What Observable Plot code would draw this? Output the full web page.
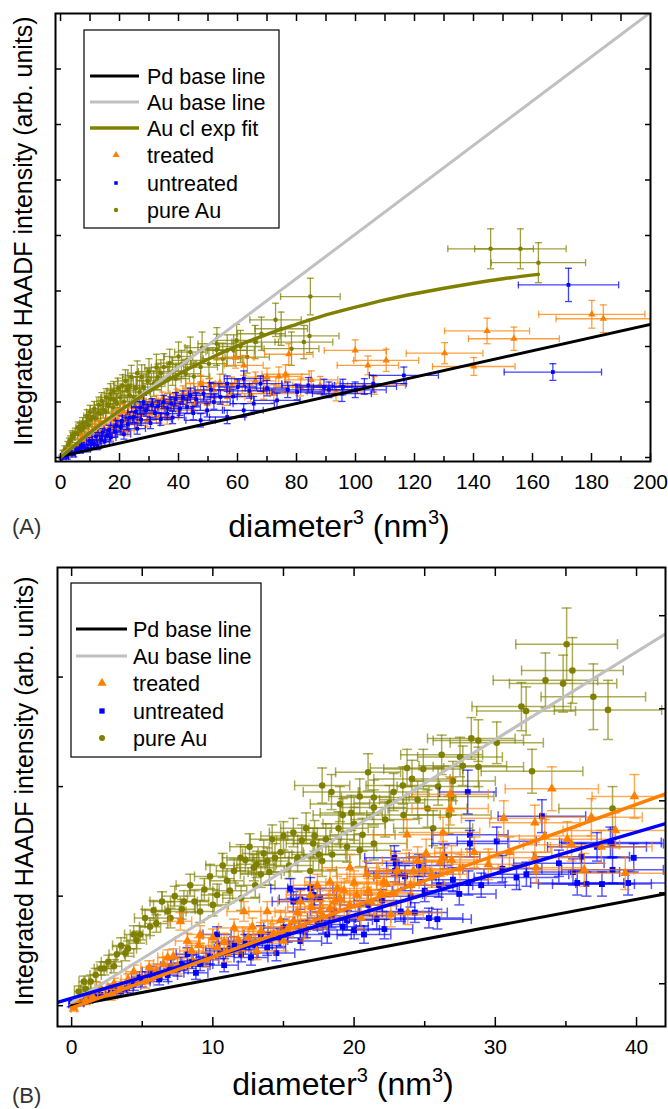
<!DOCTYPE html>
<html><head><meta charset="utf-8">
<script src="https://cdn.jsdelivr.net/npm/d3@7"></script>
<script src="https://cdn.jsdelivr.net/npm/@observablehq/plot@0.6"></script>
<style>
body{margin:0;background:#fff;}
#wrap{width:668px;}
#wrap svg{display:block;}
</style></head><body><div id="wrap"></div>
<script>
// ---------- colours ----------
const OLIVE = "#808000", ORANGE = "#FF8000", BLUE = "#0000FF", GRAY = "#C0C0C0", BLACK = "#000000";
const FONT = '"Liberation Sans", Arial, Helvetica, sans-serif';

// ---------- Panel A data: [x, y, xerr, yerr] ----------
const pureAuA = [[0.8,0.08,0.3,0.05],[1.5,0.15,0.4,0.06],[2.5,0.22,0.5,0.07],[3.4,0.31,0.6,0.08],[4.2,0.36,0.7,0.09],[5.0,0.44,0.8,0.09],[5.8,0.42,0.9,0.1],[6.5,0.52,0.9,0.1],[7.2,0.49,1,0.1],[7.9,0.55,1.1,0.11],[8.8,0.64,1.2,0.12],[9.5,0.58,1.2,0.12],[10.3,0.68,1.3,0.13],[11.0,0.73,1.4,0.13],[12.0,0.70,1.5,0.14],[12.8,0.80,1.6,0.14],[13.6,0.79,1.7,0.15],[14.5,0.86,1.8,0.15],[15.3,0.82,1.9,0.16],[16.2,0.95,2,0.16],[16.9,1.15,2.1,0.18],[17.8,0.90,2.2,0.17],[18.5,1.02,2.3,0.18],[19.2,0.97,2.4,0.18],[20.3,1.08,2.5,0.19],[21.5,1.00,2.6,0.19],[22.6,1.21,2.8,0.2],[23.5,1.12,2.9,0.2],[24.8,1.09,3.0,0.2],[25.6,1.25,3.1,0.21],[26.8,1.18,3.3,0.21],[28.2,1.27,3.4,0.22],[29.5,1.38,3.6,0.22],[30.5,1.22,3.7,0.22],[31.6,1.33,3.8,0.23],[33.0,1.45,4.0,0.23],[35.0,1.63,4.2,0.24],[36.5,1.40,4.4,0.24],[38.0,1.55,4.6,0.25],[39.0,1.42,4.7,0.25],[41.0,1.68,4.9,0.25],[42.4,1.51,5.1,0.26],[42.9,1.75,5.1,0.26],[45.2,1.46,5.4,0.26],[47.5,1.63,5.7,0.27],[50.3,1.69,6.0,0.27],[52.9,1.94,6.3,0.28],[56.5,1.93,6.7,0.28],[58.7,1.93,7.0,0.28],[59.7,2.11,7.1,0.29],[63.3,1.81,7.5,0.29],[68.1,2.23,8.1,0.3],[72.9,2.48,8.7,0.3],[74.8,2.32,8.9,0.3],[78.3,1.96,9.3,0.3],[82.5,2.08,9.8,0.3],[84.4,2.19,10,0.3],[84.7,2.90,10.1,0.33],[145.8,3.76,14.5,0.36],[155.9,3.76,15.5,0.36],[162.0,3.51,16,0.36],
  [3.0,0.28,0.5,0.07],[4.0,0.40,0.6,0.08],[6.0,0.55,0.8,0.09],[7.5,0.62,1.0,0.1],[9.0,0.75,1.1,0.11],[10.0,0.82,1.2,0.12],[11.5,0.88,1.4,0.13],[13.0,0.95,1.6,0.14],[14.0,1.02,1.7,0.15],[15.5,1.08,1.9,0.16],[17.0,1.06,2.0,0.16],[18.0,1.20,2.2,0.17],[19.5,1.25,2.4,0.18],[21.0,1.30,2.6,0.19],[22.0,1.38,2.7,0.2],[23.0,1.28,2.8,0.2],[24.0,1.45,2.9,0.21],[26.0,1.52,3.2,0.22],[27.5,1.45,3.3,0.22],[30.0,1.55,3.6,0.23],[32.5,1.62,3.9,0.24],[34.0,1.52,4.1,0.24],[37.0,1.70,4.5,0.25],[40.0,1.82,4.8,0.26],[44.0,1.90,5.3,0.27],[48.0,1.98,5.8,0.28],[53.0,2.05,6.4,0.29],[55.0,1.78,6.6,0.28],[61.0,2.00,7.3,0.29],[66.0,2.08,7.9,0.3]];
const treatedA = [[0.5,0.02,0.2,0.03],[1.5,0.06,0.3,0.04],[2.3,0.04,0.4,0.04],[3.5,0.12,0.5,0.05],[4.5,0.15,0.6,0.05],[5.7,0.19,0.7,0.06],[6.8,0.28,0.8,0.06],[8.0,0.24,0.9,0.07],[9.0,0.33,1.0,0.07],[10.2,0.37,1.1,0.08],[11.3,0.25,1.2,0.07],[12.5,0.44,1.3,0.08],[13.5,0.32,1.4,0.08],[14.7,0.49,1.6,0.09],[15.8,0.45,1.7,0.09],[16.9,0.40,1.8,0.09],[18.0,0.55,1.9,0.1],[19.2,0.61,2.0,0.1],[20.5,0.50,2.2,0.1],[21.5,0.66,2.3,0.1],[22.6,0.49,2.4,0.1],[23.8,0.70,2.5,0.11],[24.8,0.73,2.6,0.11],[26.0,0.62,2.8,0.11],[27.2,0.78,2.9,0.11],[29.4,0.67,3.1,0.12],[31.0,0.80,3.3,0.12],[33.5,0.74,3.5,0.12],[35.0,0.91,3.7,0.13],[36.2,0.73,3.8,0.13],[38.5,0.96,4.1,0.13],[40.0,0.85,4.2,0.13],[42.9,1.09,4.5,0.14],[45.5,0.98,4.8,0.14],[47.5,1.33,5.0,0.15],[49.7,0.97,5.2,0.14],[52.0,1.21,5.5,0.15],[56.5,1.09,6.0,0.15],[59.3,1.80,6.3,0.19],[62.1,1.66,6.6,0.18],[64.4,1.15,6.8,0.15],[68.9,1.21,7.3,0.16],[72.3,1.15,7.6,0.16],[74.0,1.46,7.8,0.17],[76.3,1.50,8.0,0.17],[77.4,1.86,8.2,0.19],[81.4,1.27,8.6,0.16],[93.4,1.18,9.8,0.16],[99.9,1.93,10.5,0.19],[104.2,1.66,10.4,0.17],[106.4,1.30,10.5,0.16],[110.4,1.75,11,0.2],[130.2,1.88,13,0.19],[140.1,1.64,14,0.16],[144.6,2.28,14.4,0.23],[153.7,2.14,15.4,0.21],[180.1,2.58,18,0.25],[184.0,2.50,16,0.25],
  [7.5,0.35,0.8,0.07],[9.5,0.42,1.0,0.08],[11.8,0.52,1.2,0.08],[13.0,0.58,1.4,0.09],[15.0,0.62,1.6,0.09],[17.5,0.70,1.8,0.1],[19.8,0.78,2.1,0.1],[21.0,0.85,2.2,0.11],[23.0,0.80,2.4,0.11],[25.5,0.90,2.7,0.11],[28.0,0.95,3.0,0.12],[30.0,0.92,3.2,0.12],[32.5,1.00,3.4,0.12],[34.5,1.05,3.6,0.13],[37.0,1.02,3.9,0.13],[39.5,1.10,4.2,0.13],[41.5,1.15,4.4,0.14],[44.0,1.20,4.6,0.14],[50.5,1.28,5.3,0.15],[54.0,1.35,5.7,0.15],[58.0,1.30,6.1,0.15],[66.0,1.38,7.0,0.16],[70.0,1.45,7.4,0.16],[85.0,1.40,9.0,0.16],[88.0,1.30,9.3,0.16]];
const untreatedA = [[0.5,0.0,0.2,0.03],[1.2,0.03,0.3,0.03],[2.3,0.01,0.4,0.04],[3.2,0.08,0.5,0.04],[4.5,0.06,0.6,0.05],[5.5,0.14,0.7,0.05],[6.8,0.13,0.8,0.05],[8.0,0.18,0.9,0.06],[9.2,0.16,1.0,0.06],[10.5,0.24,1.1,0.06],[11.3,0.25,1.2,0.07],[12.5,0.21,1.3,0.07],[13.8,0.33,1.5,0.07],[15.0,0.29,1.6,0.08],[15.8,0.40,1.7,0.08],[17.0,0.36,1.8,0.08],[18.5,0.46,2.0,0.09],[20.3,0.55,2.2,0.09],[21.5,0.42,2.3,0.09],[22.8,0.60,2.4,0.1],[24.8,0.73,2.6,0.1],[26.0,0.52,2.8,0.1],[27.3,0.68,2.9,0.1],[28.2,1.00,3.0,0.12],[30.5,0.62,3.2,0.1],[32.0,0.80,3.4,0.11],[34.0,0.69,3.6,0.11],[36.2,0.79,3.8,0.11],[38.0,0.72,4.0,0.11],[40.5,0.88,4.3,0.12],[42.9,0.91,4.5,0.12],[45.0,0.80,4.7,0.12],[47.5,0.67,5.0,0.12],[49.7,0.85,5.2,0.12],[52.0,1.00,5.5,0.13],[54.2,1.09,5.7,0.13],[56.5,0.73,6.0,0.12],[56.5,1.33,6.0,0.14],[60.1,1.27,6.4,0.14],[62.1,1.42,6.6,0.14],[62.1,0.85,6.6,0.12],[65.5,0.97,7.0,0.13],[67.8,1.33,7.2,0.14],[73.4,1.03,7.8,0.13],[80.2,1.18,8.5,0.14],[89.3,1.27,9.5,0.14],[95.7,1.27,10,0.14],[95.4,1.15,10,0.14],[99.9,1.22,10.5,0.14],[116.4,1.48,11.7,0.15],[166.9,1.54,16.5,0.15],[172.2,3.11,17,0.3],
  [7.2,0.22,0.8,0.05],[9.8,0.30,1.0,0.06],[12.0,0.38,1.3,0.07],[14.2,0.45,1.5,0.07],[16.5,0.50,1.7,0.08],[19.0,0.58,2.0,0.09],[20.8,0.66,2.2,0.09],[23.5,0.72,2.5,0.1],[25.5,0.82,2.7,0.1],[27.0,0.90,2.9,0.11],[29.0,0.85,3.1,0.11],[31.0,0.95,3.3,0.11],[33.0,0.92,3.5,0.11],[35.0,1.00,3.7,0.12],[37.5,0.97,4.0,0.12],[39.0,1.05,4.1,0.12],[41.5,1.08,4.4,0.12],[44.0,1.12,4.7,0.13],[46.0,1.05,4.9,0.12],[48.5,1.15,5.1,0.13],[51.0,1.22,5.4,0.13],[58.5,1.10,6.2,0.13],[64.0,1.20,6.8,0.13],[70.0,1.25,7.4,0.14],[77.0,1.22,8.2,0.14],[84.0,1.30,8.9,0.14],[91.0,1.22,9.6,0.14],[103.0,1.28,10.9,0.14],[106.0,1.33,11.2,0.15]];

// Panel A lines (read endpoints / read points along the curve)
const pdBaseA = {x: [0, 200], y: [0.02, 2.40]};
const auBaseA = {x: [0, 199.5], y: [0.03, 8.0]};
const auFitA = {x: [0,10,20,30,40,50,60,70,80,90,100,110,120,130,140,150,162],
                y: [0.00,0.45,0.84,1.19,1.50,1.77,2.01,2.22,2.40,2.57,2.71,2.84,2.95,3.05,3.14,3.22,3.30]};

// Panel A axes
const xDomainA = [-1.7, 200], yDomainA = [-0.072, 8];
const xMajorA = [0,20,40,60,80,100,120,140,160,180,200];
const xMinorA = [10,30,50,70,90,110,130,150,170,190];
const xTopA = [0,10,20,30,40,50,60,70,80,90,100,110,120,130,140,150,160,170,180,190];
const yTicksA = [0,1,2,3,4,5,6,7];

// ---------- Panel B data: [x, y, xerr, yerr] ----------
const pureAuB = [[0.5,0.13,0.3,0.05],[0.87,0.22,0.35,0.05],[1.35,0.22,0.4,0.06],[2.05,0.34,0.45,0.06],[2.3,0.34,0.5,0.06],[3.2,0.47,0.55,0.07],[3.8,0.48,0.6,0.07],[4.4,0.65,0.65,0.08],[4.85,0.65,0.7,0.08],[5.55,0.72,0.75,0.08],[5.8,0.87,0.8,0.09],[6.8,0.86,0.85,0.09],[7.95,0.95,0.95,0.1],[9.1,0.86,1.0,0.1],[9.4,1.06,1.05,0.1],[10.3,1.01,1.1,0.1],[11.0,1.14,1.2,0.11],[11.5,1.23,1.25,0.11],[12.0,0.98,1.3,0.11],[11.96,1.35,1.3,0.12],[12.3,1.33,1.3,0.12],[12.9,1.26,1.4,0.12],[13.1,1.29,1.4,0.12],[13.4,1.20,1.45,0.12],[13.6,1.39,1.5,0.12],[13.85,1.32,1.5,0.12],[14.2,1.52,1.55,0.13],[14.4,1.35,1.6,0.13],[15.0,1.55,1.6,0.13],[15.7,1.58,1.7,0.13],[16.0,1.35,1.75,0.13],[16.3,1.51,1.8,0.14],[16.9,1.23,1.85,0.13],[17.1,1.48,1.9,0.14],[17.5,1.38,1.9,0.14],[17.74,2.01,1.95,0.16],[17.74,1.32,1.95,0.14],[18.4,1.95,2.0,0.16],[18.45,1.38,2.0,0.14],[19.0,1.84,2.1,0.16],[19.2,1.74,2.1,0.15],[19.8,1.76,2.2,0.16],[20.4,1.91,2.2,0.16],[20.4,1.42,2.2,0.15],[20.6,1.56,2.3,0.15],[20.99,2.13,2.3,0.17],[21.4,1.90,2.3,0.16],[21.4,1.48,2.35,0.15],[21.4,1.81,2.35,0.16],[22.8,1.95,2.5,0.17],[23.45,2.01,2.6,0.17],[23.5,1.74,2.6,0.16],[23.75,2.17,2.6,0.17],[24.1,2.07,2.7,0.17],[24.9,2.16,2.8,0.18],[25.6,1.62,2.8,0.16],[25.95,2.0,2.9,0.17],[26.2,2.29,2.9,0.18],[26.7,1.74,3.0,0.17],[26.9,1.91,3.0,0.17],[27.5,2.27,3.0,0.18],[27.7,2.19,3.1,0.18],[28.3,2.44,3.1,0.19],[28.8,2.42,3.2,0.19],[28.8,2.18,3.2,0.18],[30.1,2.40,3.3,0.19],[31.85,2.73,3.5,0.22],[32.18,2.69,3.5,0.22],[32.6,2.14,3.6,0.2],[33.55,2.97,3.7,0.25],[34.8,2.94,3.8,0.26],[35.05,3.30,3.6,0.33],[35.46,3.06,3.6,0.3],[36.94,2.82,3.7,0.3],[37.98,2.70,3.8,0.27],[38.3,1.80,3.8,0.2],
  [1.0,0.15,0.35,0.05],[1.7,0.28,0.4,0.06],[2.6,0.40,0.5,0.06],[3.0,0.36,0.55,0.06],[3.5,0.55,0.6,0.07],[4.0,0.52,0.6,0.07],[4.6,0.60,0.7,0.08],[5.2,0.80,0.75,0.08],[6.0,0.75,0.8,0.08],[6.4,0.95,0.85,0.09],[7.0,0.80,0.9,0.09],[7.3,1.00,0.9,0.09],[7.8,0.88,0.95,0.09],[8.4,1.10,1.0,0.1],[8.7,0.95,1.0,0.1],[9.8,1.18,1.1,0.11],[10.0,0.92,1.1,0.1],[10.7,1.28,1.2,0.11],[11.2,1.05,1.2,0.11],[12.6,1.45,1.4,0.12],[13.0,1.10,1.4,0.11],[14.0,1.22,1.5,0.12],[14.8,1.40,1.6,0.13],[15.4,1.28,1.7,0.12],[16.6,1.62,1.8,0.14],[17.2,1.55,1.9,0.14],[18.0,1.52,2.0,0.14],[18.9,1.62,2.1,0.15],[19.5,1.45,2.1,0.14],[20.0,1.66,2.2,0.15],[22.2,1.70,2.4,0.16],[22.5,1.85,2.5,0.16],[24.5,1.88,2.7,0.17],[25.2,1.80,2.8,0.17],[27.0,2.05,3.0,0.18]];
const treatedB = [[0.16,-0.02,0.2,0.03],[0.4,0.04,0.25,0.03],[1.0,0.05,0.3,0.04],[1.5,0.08,0.35,0.04],[2.05,0.16,0.4,0.05],[2.8,0.10,0.45,0.05],[3.5,0.17,0.5,0.05],[4.4,0.31,0.55,0.06],[5.2,0.22,0.6,0.06],[6.0,0.32,0.65,0.06],[6.8,0.44,0.7,0.07],[7.7,0.77,0.8,0.08],[7.5,0.36,0.8,0.07],[8.2,0.59,0.85,0.07],[9.1,0.65,0.9,0.08],[9.5,0.42,0.95,0.07],[10.3,0.53,1.0,0.08],[11.0,0.48,1.1,0.08],[11.5,0.71,1.1,0.08],[12.2,0.86,1.2,0.09],[12.5,0.62,1.2,0.08],[13.1,0.50,1.3,0.08],[13.85,0.86,1.3,0.09],[14.3,0.66,1.4,0.09],[15.0,0.59,1.4,0.09],[15.7,0.77,1.5,0.09],[16.2,0.95,1.6,0.1],[16.5,0.70,1.6,0.09],[16.9,1.01,1.7,0.1],[17.4,1.10,1.7,0.1],[17.8,0.82,1.8,0.1],[18.3,0.89,1.8,0.1],[18.3,1.13,1.8,0.11],[18.8,1.07,1.9,0.11],[19.0,0.98,1.9,0.1],[19.7,1.26,2.0,0.12],[19.7,0.92,2.0,0.1],[20.2,1.01,2.0,0.11],[20.5,0.80,2.1,0.1],[20.9,1.20,2.1,0.12],[21.2,0.95,2.1,0.11],[21.9,1.03,2.2,0.11],[22.1,1.13,2.2,0.12],[22.3,1.11,2.3,0.12],[22.6,0.83,2.3,0.11],[23.05,1.23,2.3,0.12],[23.75,1.56,2.4,0.14],[23.8,0.85,2.4,0.11],[24.2,1.23,2.4,0.12],[24.5,1.32,2.5,0.13],[24.9,1.24,2.5,0.13],[25.1,1.39,2.5,0.13],[26.1,1.31,2.6,0.13],[26.3,1.36,2.6,0.14],[26.3,1.58,2.6,0.14],[26.8,1.80,2.7,0.15],[26.8,1.93,2.7,0.16],[26.9,1.33,2.7,0.13],[29.5,1.29,2.9,0.14],[30.6,1.71,3.0,0.16],[32.8,1.67,3.2,0.16],[32.8,1.35,3.2,0.14],[32.9,1.26,3.2,0.14],[34.0,1.98,3.3,0.2],[35.1,1.52,3.4,0.16],[35.4,1.47,3.4,0.15],[36.3,1.24,3.5,0.15],[36.8,1.72,3.6,0.17],[39.2,1.21,3.8,0.15],[39.85,1.91,3.0,0.2],
  [3.0,0.20,0.45,0.05],[4.0,0.24,0.5,0.05],[5.5,0.35,0.6,0.06],[6.5,0.38,0.7,0.06],[7.2,0.45,0.75,0.07],[8.5,0.50,0.85,0.07],[9.0,0.55,0.9,0.07],[10.0,0.62,1.0,0.08],[10.8,0.58,1.1,0.08],[11.8,0.60,1.2,0.08],[12.8,0.72,1.3,0.08],[13.4,0.68,1.3,0.08],[14.8,0.78,1.4,0.09],[15.4,0.72,1.5,0.09],[16.0,0.85,1.6,0.09],[17.0,0.90,1.7,0.1],[17.6,0.86,1.7,0.1],[18.6,0.95,1.8,0.1],[19.3,1.05,1.9,0.11],[20.0,1.12,2.0,0.11],[21.0,1.05,2.1,0.11],[21.6,1.18,2.1,0.12],[22.8,1.02,2.3,0.11],[24.0,1.10,2.4,0.12],[25.5,1.20,2.5,0.12],[27.5,1.25,2.7,0.13],[28.5,1.40,2.8,0.14],[31.0,1.40,3.0,0.14],[33.5,1.55,3.3,0.15],[37.5,1.45,3.6,0.15],[38.5,1.60,3.7,0.16]];
const untreatedB = [[0.0,0.02,0.2,0.03],[0.6,0.03,0.25,0.03],[1.2,0.06,0.3,0.03],[2.05,0.10,0.35,0.04],[2.8,0.12,0.4,0.04],[3.5,0.13,0.45,0.04],[4.4,0.19,0.5,0.05],[5.0,0.22,0.55,0.05],[5.6,0.31,0.6,0.05],[6.2,0.24,0.65,0.05],[6.8,0.28,0.7,0.06],[7.5,0.33,0.75,0.06],[8.2,0.47,0.8,0.06],[8.8,0.30,0.85,0.06],[9.1,0.38,0.9,0.06],[9.8,0.45,0.95,0.07],[10.3,0.65,1.0,0.07],[10.8,0.37,1.0,0.06],[11.5,0.56,1.1,0.07],[12.0,0.47,1.1,0.07],[12.7,0.44,1.2,0.07],[13.4,0.65,1.2,0.08],[13.85,0.53,1.3,0.07],[14.5,0.48,1.3,0.07],[15.0,0.71,1.4,0.08],[15.5,1.07,1.4,0.09],[15.7,0.95,1.5,0.09],[16.2,0.59,1.5,0.08],[16.2,0.97,1.5,0.09],[16.9,1.07,1.6,0.1],[17.15,1.01,1.6,0.09],[17.4,0.77,1.6,0.08],[17.6,0.98,1.7,0.09],[18.1,0.65,1.7,0.08],[18.6,0.86,1.7,0.09],[19.2,0.72,1.8,0.08],[20.0,0.69,1.8,0.08],[20.7,0.65,1.9,0.08],[21.6,0.79,2.0,0.09],[22.15,0.70,2.0,0.09],[22.85,1.35,2.1,0.11],[22.9,1.23,2.1,0.1],[22.95,1.30,2.1,0.11],[23.2,1.21,2.2,0.1],[23.3,0.86,2.2,0.09],[23.6,1.18,2.2,0.1],[24.3,0.85,2.3,0.09],[24.6,1.28,2.3,0.1],[25.3,0.80,2.4,0.09],[25.9,0.79,2.4,0.09],[26.4,1.36,2.5,0.11],[27.45,1.02,2.6,0.1],[28.05,1.95,2.0,0.2],[28.1,1.12,2.6,0.11],[28.2,1.56,2.7,0.13],[28.2,1.48,2.7,0.12],[30.1,1.50,2.8,0.13],[31.5,1.17,3.0,0.11],[32.2,1.20,3.0,0.11],[33.3,1.73,3.1,0.15],[35.8,1.12,3.3,0.11],[36.1,1.36,3.4,0.12],[36.45,1.11,3.4,0.11],[37.2,1.45,3.5,0.13],[37.55,1.11,3.5,0.11],[38.15,1.49,3.6,0.14],[38.3,1.24,3.6,0.12],[38.3,1.48,3.6,0.13],[39.4,1.12,3.7,0.11],
  [1.6,0.08,0.3,0.03],[3.0,0.15,0.4,0.04],[3.9,0.16,0.45,0.04],[4.8,0.26,0.55,0.05],[5.8,0.27,0.6,0.05],[7.0,0.36,0.7,0.06],[7.8,0.38,0.75,0.06],[8.5,0.40,0.8,0.06],[9.5,0.42,0.9,0.06],[10.5,0.50,1.0,0.07],[11.2,0.52,1.1,0.07],[12.3,0.58,1.2,0.07],[13.0,0.55,1.2,0.07],[14.0,0.60,1.3,0.07],[14.8,0.62,1.4,0.08],[15.3,0.66,1.4,0.08],[16.6,0.70,1.6,0.08],[17.8,0.74,1.7,0.08],[18.4,0.80,1.7,0.09],[19.5,0.78,1.8,0.09],[20.4,0.82,1.9,0.09],[21.0,0.92,2.0,0.09],[22.0,0.96,2.0,0.1],[24.0,1.00,2.2,0.1],[25.0,1.05,2.3,0.1],[26.0,1.10,2.4,0.11],[27.0,1.15,2.5,0.11],[29.0,1.10,2.7,0.11],[30.5,1.25,2.8,0.12],[34.5,1.30,3.2,0.12],[35.5,1.22,3.3,0.12],[39.8,1.35,3.7,0.13]];

// Panel B lines (read endpoints)
const pdBaseB = {x: [0, 42], y: [0.0, 1.02]};
const auBaseB = {x: [0, 42], y: [0.03, 3.39]};
const untreatedFitB = {x: [-1, 42], y: [0.03, 1.66]};
const treatedFitB = {x: [0, 42], y: [-0.02, 1.93]};

// Panel B axes
const xDomainB = [-1, 42.05], yDomainB = [-0.19, 4.0];
const xMajorB = [0,10,20,30,40];
const xMinorB = [5,15,25,35];
const xTopB = [0,5,10,15,20,25,30,35,40];
const yTicksB = [0,1,2,3];
const yTicksBRight = [0.20,1.03,1.87,2.71,3.56];

// ---------- helpers ----------
const capV = {draw(ctx, size){ const h = Math.sqrt(size/Math.PI); ctx.moveTo(0,-h); ctx.lineTo(0,h); }};
const capH = {draw(ctx, size){ const h = Math.sqrt(size/Math.PI); ctx.moveTo(-h,0); ctx.lineTo(h,0); }};
const toPts = o => o.x.map((x,i)=>({x, y:o.y[i]}));

function errMarks(data, color, sw, cap, op){
  const s = {stroke: color, strokeOpacity: op, strokeWidth: sw, clip: true};
  return [
    Plot.ruleY(data, {y: d=>d[1], x1: d=>d[0]-d[2], x2: d=>d[0]+d[2], ...s}),
    Plot.ruleX(data, {x: d=>d[0], y1: d=>d[1]-d[3], y2: d=>d[1]+d[3], ...s}),
    Plot.dot(data, {x: d=>d[0]-d[2], y: d=>d[1], symbol: capV, r: cap, fill: "none", ...s}),
    Plot.dot(data, {x: d=>d[0]+d[2], y: d=>d[1], symbol: capV, r: cap, fill: "none", ...s}),
    Plot.dot(data, {x: d=>d[0], y: d=>d[1]-d[3], symbol: capH, r: cap, fill: "none", ...s}),
    Plot.dot(data, {x: d=>d[0], y: d=>d[1]+d[3], symbol: capH, r: cap, fill: "none", ...s})
  ];
}
function series(data, color, symbol, r, sw, cap, op){
  return [...errMarks(data, color, sw, cap, op),
    Plot.dot(data, {x: d=>d[0], y: d=>d[1], symbol, r, fill: color, stroke: "none", clip: true})];
}
const styleObj = {fontFamily: FONT, fontSize: "21px", color: "#000", background: "#fff", overflow: "visible"};

// ---------- Panel A ----------
const svgA = Plot.plot({
  width: 668, height: 548,
  marginTop: 13, marginBottom: 87, marginLeft: 55, marginRight: 18,
  style: styleObj,
  x: {domain: xDomainA},
  y: {domain: yDomainA},
  marks: [
    ...series(pureAuA, OLIVE, "circle", 2.3, 1.3, 3.5, 0.75),
    ...series(treatedA, ORANGE, "triangle", 2.7, 1.3, 3.5, 0.75),
    ...series(untreatedA, BLUE, "square", 2.1, 1.3, 3.5, 0.75),
    Plot.line(toPts(pdBaseA), {x: "x", y: "y", stroke: BLACK, strokeWidth: 3, clip: true}),
    Plot.line(toPts(auBaseA), {x: "x", y: "y", stroke: GRAY, strokeWidth: 3, clip: true}),
    Plot.line(toPts(auFitA), {x: "x", y: "y", stroke: OLIVE, strokeWidth: 3.5, curve: "monotone-x", clip: true}),
    Plot.axisX({ticks: xMajorA, tickSize: -8, tickPadding: 21, label: null, strokeWidth: 1.5}),
    Plot.axisX({ticks: xMinorA, tickSize: -5, tickFormat: () => "", label: null, strokeWidth: 1.5}),
    Plot.axisX({anchor: "top", ticks: xTopA, tickSize: -7, tickFormat: () => "", label: null, strokeWidth: 1.5}),
    Plot.axisY({ticks: yTicksA, tickSize: -6, tickFormat: () => "", label: null, strokeWidth: 1.5}),
    Plot.axisY({anchor: "right", ticks: yTicksA, tickSize: -6, tickFormat: () => "", label: null, strokeWidth: 1.5}),
    Plot.frame({stroke: BLACK, strokeWidth: 2})
  ]
});

// ---------- Panel B ----------
const svgB = Plot.plot({
  width: 668, height: 561,
  marginTop: 19, marginBottom: 83, marginLeft: 57, marginRight: 3,
  style: styleObj,
  x: {domain: xDomainB},
  y: {domain: yDomainB},
  marks: [
    ...series(pureAuB, OLIVE, "circle", 3.3, 1.5, 5, 0.65),
    ...series(untreatedB, BLUE, "square", 3.3, 1.5, 5, 0.65),
    ...series(treatedB, ORANGE, "triangle", 3.6, 1.5, 5, 0.65),
    Plot.line(toPts(pdBaseB), {x: "x", y: "y", stroke: BLACK, strokeWidth: 3, clip: true}),
    Plot.line(toPts(auBaseB), {x: "x", y: "y", stroke: GRAY, strokeWidth: 3, clip: true}),
    Plot.line(toPts(untreatedFitB), {x: "x", y: "y", stroke: BLUE, strokeWidth: 3.5, clip: true}),
    Plot.line(toPts(treatedFitB), {x: "x", y: "y", stroke: ORANGE, strokeWidth: 3.5, clip: true}),
    Plot.axisX({ticks: xMajorB, tickSize: -9, tickPadding: 22, label: null, strokeWidth: 1.5}),
    Plot.axisX({ticks: xMinorB, tickSize: -5, tickFormat: () => "", label: null, strokeWidth: 1.5}),
    Plot.axisX({anchor: "top", ticks: xTopB, tickSize: -8, tickFormat: () => "", label: null, strokeWidth: 1.5}),
    Plot.axisY({ticks: yTicksB, tickSize: -6, tickFormat: () => "", label: null, strokeWidth: 1.5}),
    Plot.axisY({anchor: "right", ticks: yTicksBRight, tickSize: -7, tickFormat: () => "", label: null, strokeWidth: 1.5}),
    Plot.frame({stroke: BLACK, strokeWidth: 2})
  ]
});

const wrap = document.getElementById("wrap");
wrap.appendChild(svgA);
wrap.appendChild(svgB);

// ---------- titles, labels, legends ----------
function addTexts(svg, o){
  const s = d3.select(svg);
  const g = s.append("g").attr("font-family", FONT).attr("fill", "#000").attr("text-anchor", "start");
  g.append("text").attr("transform", `translate(${o.yl[0]},${o.yl[1]}) rotate(-90)`)
    .attr("text-anchor", "middle").attr("font-size", 25)
    .text("Integrated HAADF intensity (arb. units)");
  const t = g.append("text").attr("x", o.xt[0]).attr("y", o.xt[1]).attr("text-anchor", "middle").attr("font-size", 32);
  t.append("tspan").text("diameter");
  t.append("tspan").attr("font-size", 20).attr("dy", -13).text("3");
  t.append("tspan").attr("dy", 13).text(" (nm");
  t.append("tspan").attr("font-size", 20).attr("dy", -13).text("3");
  t.append("tspan").attr("dy", 13).text(")");
  g.append("text").attr("x", 12).attr("y", o.letterY).attr("text-anchor", "start")
    .attr("font-size", 22).attr("fill", "#333").text(o.letter);
  const L = o.legend;
  g.append("rect").attr("x", L.box[0]).attr("y", L.box[1]).attr("width", L.box[2]).attr("height", L.box[3])
    .attr("fill", "#fff").attr("stroke", "#000").attr("stroke-width", 1.2);
  L.items.forEach(it => {
    if (it.type === "line") {
      g.append("line").attr("x1", L.lx[0]).attr("x2", L.lx[1]).attr("y1", it.y).attr("y2", it.y)
        .attr("stroke", it.color).attr("stroke-width", it.w);
    } else {
      const sym = {triangle: d3.symbolTriangle, square: d3.symbolSquare, circle: d3.symbolCircle}[it.type];
      g.append("path").attr("transform", `translate(${L.mx},${it.y})`)
        .attr("d", d3.symbol(sym, Math.PI * it.r * it.r)()).attr("fill", it.color);
    }
    g.append("text").attr("x", L.tx).attr("y", it.y + 7.5).attr("text-anchor", "start")
      .attr("font-size", 21.5).text(it.label);
  });
}

addTexts(svgA, {
  yl: [32, 231], xt: [339, 537], letter: "(A)", letterY: 534,
  legend: {box: [84, 30, 195, 198], lx: [90, 139], mx: 116, tx: 147, items: [
    {type: "line", y: 76, color: BLACK, w: 3, label: "Pd base line"},
    {type: "line", y: 102, color: GRAY, w: 3, label: "Au base line"},
    {type: "line", y: 128, color: OLIVE, w: 3.5, label: "Au cl exp fit"},
    {type: "triangle", y: 155, color: ORANGE, r: 2.6, label: "treated"},
    {type: "square", y: 183, color: BLUE, r: 2.0, label: "untreated"},
    {type: "circle", y: 210, color: OLIVE, r: 2.2, label: "pure Au"}
  ]}
});
addTexts(svgB, {
  yl: [33, 243], xt: [343, 547], letter: "(B)", letterY: 555,
  legend: {box: [71, 35, 190, 174], lx: [76, 127], mx: 102, tx: 133, items: [
    {type: "line", y: 81, color: BLACK, w: 3, label: "Pd base line"},
    {type: "line", y: 108, color: GRAY, w: 3, label: "Au base line"},
    {type: "triangle", y: 135, color: ORANGE, r: 3.4, label: "treated"},
    {type: "square", y: 163, color: BLUE, r: 3.0, label: "untreated"},
    {type: "circle", y: 190, color: OLIVE, r: 3.0, label: "pure Au"}
  ]}
});
</script>
</body></html>
